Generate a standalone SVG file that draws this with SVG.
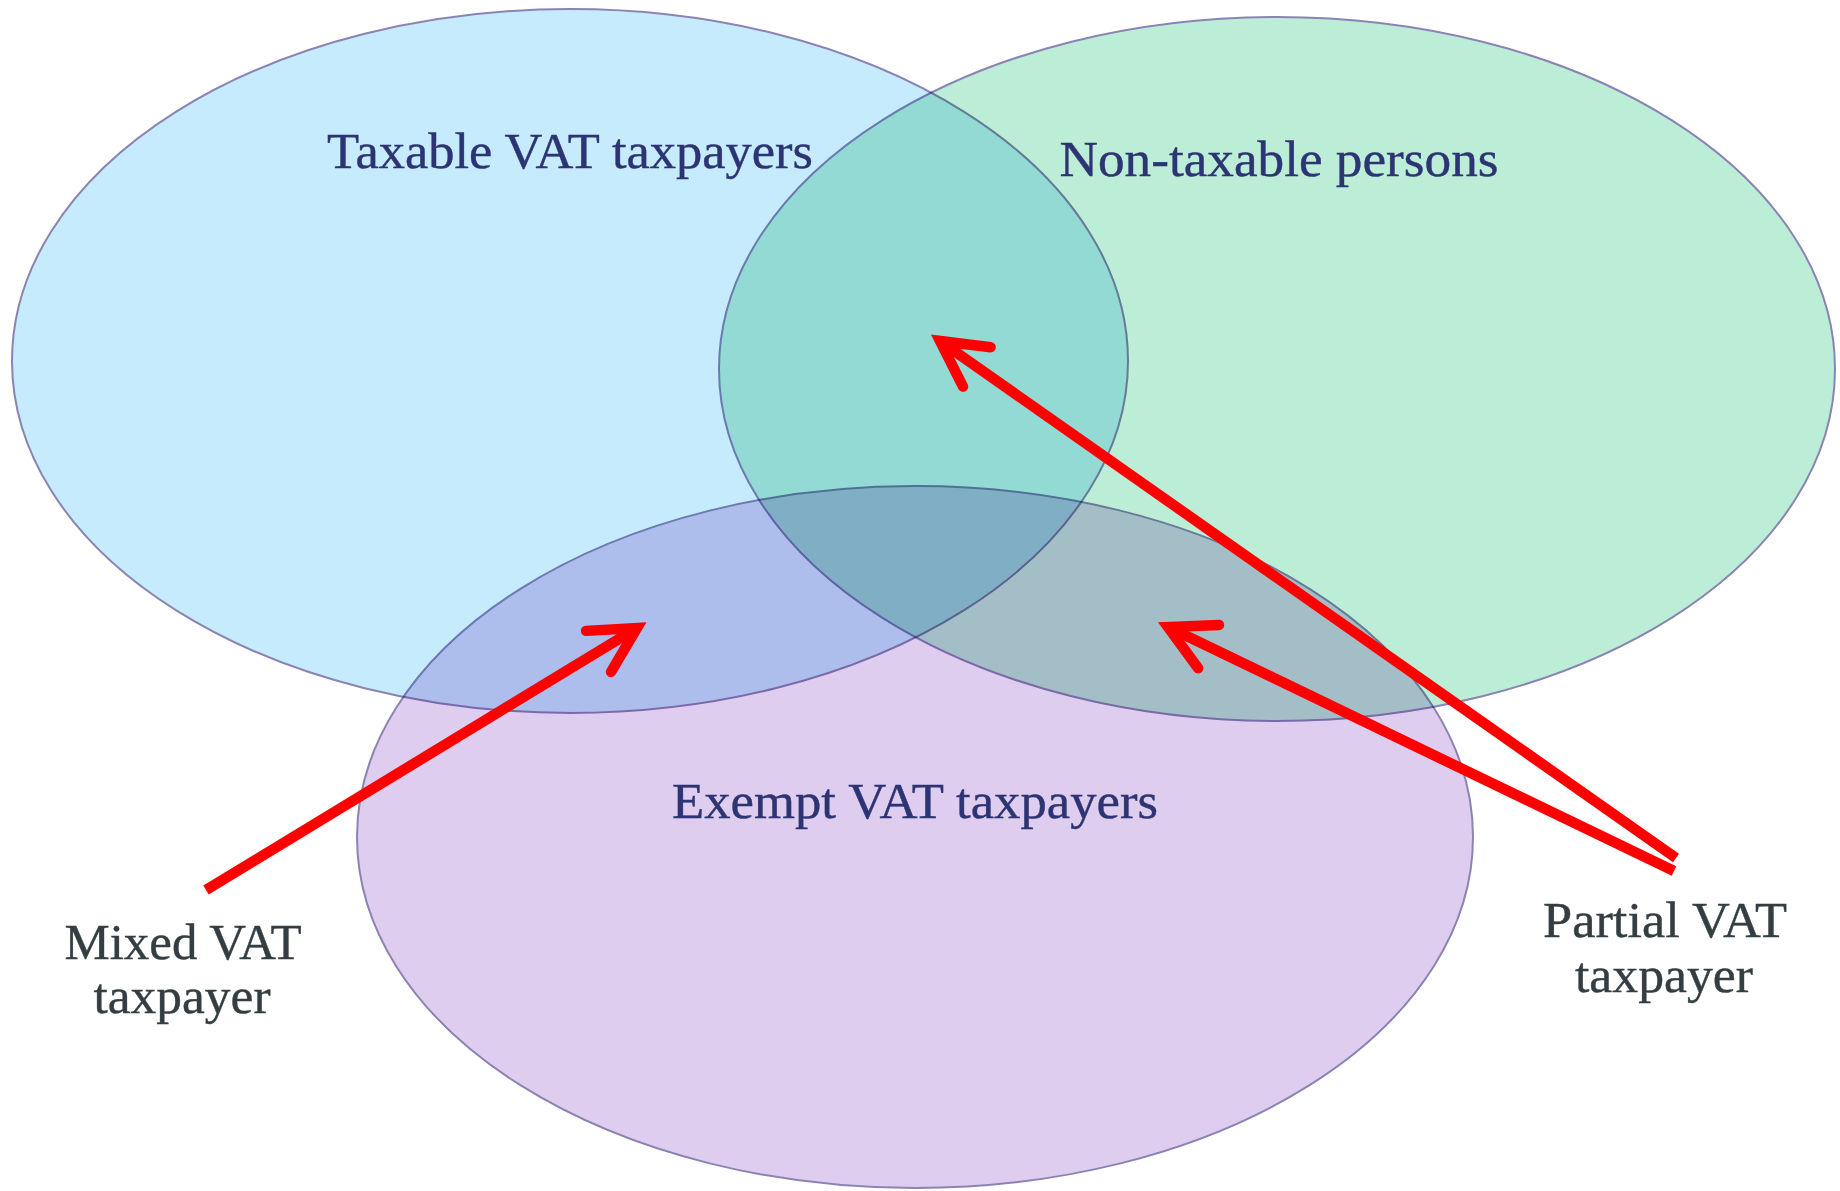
<svg xmlns="http://www.w3.org/2000/svg" width="1840" height="1191" viewBox="0 0 1840 1191">
  <style>
    .set { stroke: #8a84b4; stroke-width: 2; mix-blend-mode: multiply; }
    .title { font-family: "Liberation Serif", "DejaVu Serif", serif; font-size: 51px; fill: #2d3473; text-anchor: middle; stroke: #2d3473; stroke-width: 0.4; }
    .lbl { font-family: "Liberation Serif", "DejaVu Serif", serif; font-size: 51px; fill: #343e42; text-anchor: middle; stroke: #343e42; stroke-width: 0.4; }
    .arrow { fill: none; stroke: #ff0000; stroke-width: 10.5; stroke-linecap: butt; }
  </style>
  <defs>
    <marker id="head" markerUnits="userSpaceOnUse" viewBox="-70 -40 90 80" markerWidth="90" markerHeight="80" refX="0" refY="0" orient="auto" overflow="visible">
      <path d="M -45 -24 L 0 0 L -45 24" fill="none" stroke="#ff0000" stroke-width="10.5" stroke-linecap="round" stroke-linejoin="miter" stroke-miterlimit="10"/>
    </marker>
  </defs>
  <rect x="0" y="0" width="1840" height="1191" fill="#ffffff"/>

  <g id="taxable">
    <ellipse class="set" cx="570" cy="361" rx="558" ry="352" fill="#c6ebfc"/>
    <text class="title" x="570" y="168" textLength="486" lengthAdjust="spacingAndGlyphs">Taxable VAT taxpayers</text>
  </g>
  <g id="nontaxable">
    <ellipse class="set" cx="1277" cy="369" rx="558" ry="352" fill="#bcedd6"/>
    <text class="title" x="1279" y="176" textLength="439" lengthAdjust="spacingAndGlyphs">Non-taxable persons</text>
  </g>
  <g id="exempt">
    <ellipse class="set" cx="915" cy="837" rx="558" ry="351" fill="#dfcdef"/>
    <text class="title" x="915" y="818" textLength="486" lengthAdjust="spacingAndGlyphs">Exempt VAT taxpayers</text>
  </g>

  <g id="mixed">
    <text class="lbl" x="183" y="959" textLength="237" lengthAdjust="spacingAndGlyphs">Mixed VAT</text>
    <text class="lbl" x="182" y="1013" textLength="177" lengthAdjust="spacingAndGlyphs">taxpayer</text>
  </g>
  <g id="partial">
    <text class="lbl" x="1665" y="937" textLength="244" lengthAdjust="spacingAndGlyphs">Partial VAT</text>
    <text class="lbl" x="1664" y="992" textLength="178" lengthAdjust="spacingAndGlyphs">taxpayer</text>
  </g>

  <g id="connectors">
    <line class="arrow" x1="206" y1="890" x2="637" y2="628" marker-end="url(#head)"/>
    <line class="arrow" x1="1676" y1="858" x2="940" y2="341" marker-end="url(#head)"/>
    <line class="arrow" x1="1674" y1="871" x2="1168" y2="627" marker-end="url(#head)"/>
  </g>
</svg>
